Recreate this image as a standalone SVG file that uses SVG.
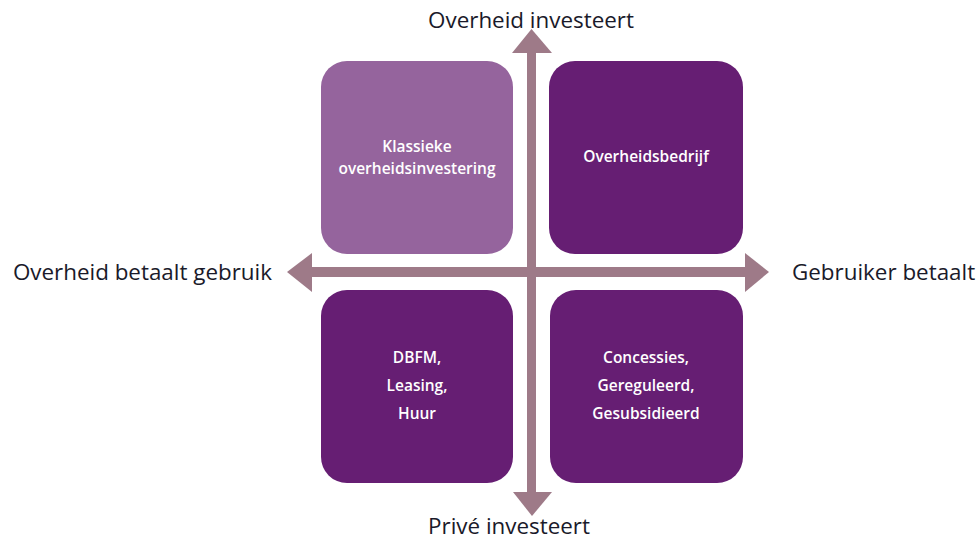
<svg xmlns="http://www.w3.org/2000/svg" width="980" height="542" viewBox="0 0 980 542">
<style>
.light{fill:#95649D}
.dark{fill:#661E73}
.bt{font-family:"Open Sans","Liberation Sans",sans-serif;font-size:15.5px;font-weight:600;fill:#ffffff;text-anchor:middle}
.lbl{font-family:"Open Sans","Liberation Sans",sans-serif;font-size:22.4px;fill:#1a1a2a}
.ax{fill:#9E7A88}
</style>
<rect width="980" height="542" fill="#ffffff"/>
<g id="connectors">
<rect class="ax" x="527" y="52" width="9" height="442"/>
<polygon class="ax" points="512,53 531.5,29 552,53"/>
<polygon class="ax" points="513,492 532,516 552,492"/>
<rect class="ax" x="310" y="267" width="437" height="10"/>
<polygon class="ax" points="312,253 287,272 312,292"/>
<polygon class="ax" points="745,253 769,272 745,292"/>
</g>
<g id="node-klassiek">
<rect class="light" x="321" y="61" width="192" height="193" rx="26"/>
<text class="bt" x="417" y="152">Klassieke</text>
<text class="bt" x="417" y="174">overheidsinvestering</text>
</g>
<g id="node-overheidsbedrijf">
<rect class="dark" x="549" y="61" width="194" height="193" rx="26"/>
<text class="bt" x="646" y="162">Overheidsbedrijf</text>
</g>
<g id="node-dbfm">
<rect class="dark" x="321" y="290" width="192" height="193" rx="26"/>
<text class="bt" x="417" y="363">DBFM,</text>
<text class="bt" x="417" y="391">Leasing,</text>
<text class="bt" x="417" y="419">Huur</text>
</g>
<g id="node-concessies">
<rect class="dark" x="550" y="290" width="193" height="193" rx="26"/>
<text class="bt" x="646" y="363">Concessies,</text>
<text class="bt" x="646" y="391">Gereguleerd,</text>
<text class="bt" x="646" y="419">Gesubsidieerd</text>
</g>
<g id="labels">
<text class="lbl" x="531" y="28" text-anchor="middle">Overheid investeert</text>
<text class="lbl" x="509" y="534" text-anchor="middle">Privé investeert</text>
<text class="lbl" x="272" y="280" text-anchor="end">Overheid betaalt gebruik</text>
<text class="lbl" x="792" y="280">Gebruiker betaalt</text>
</g>
</svg>
